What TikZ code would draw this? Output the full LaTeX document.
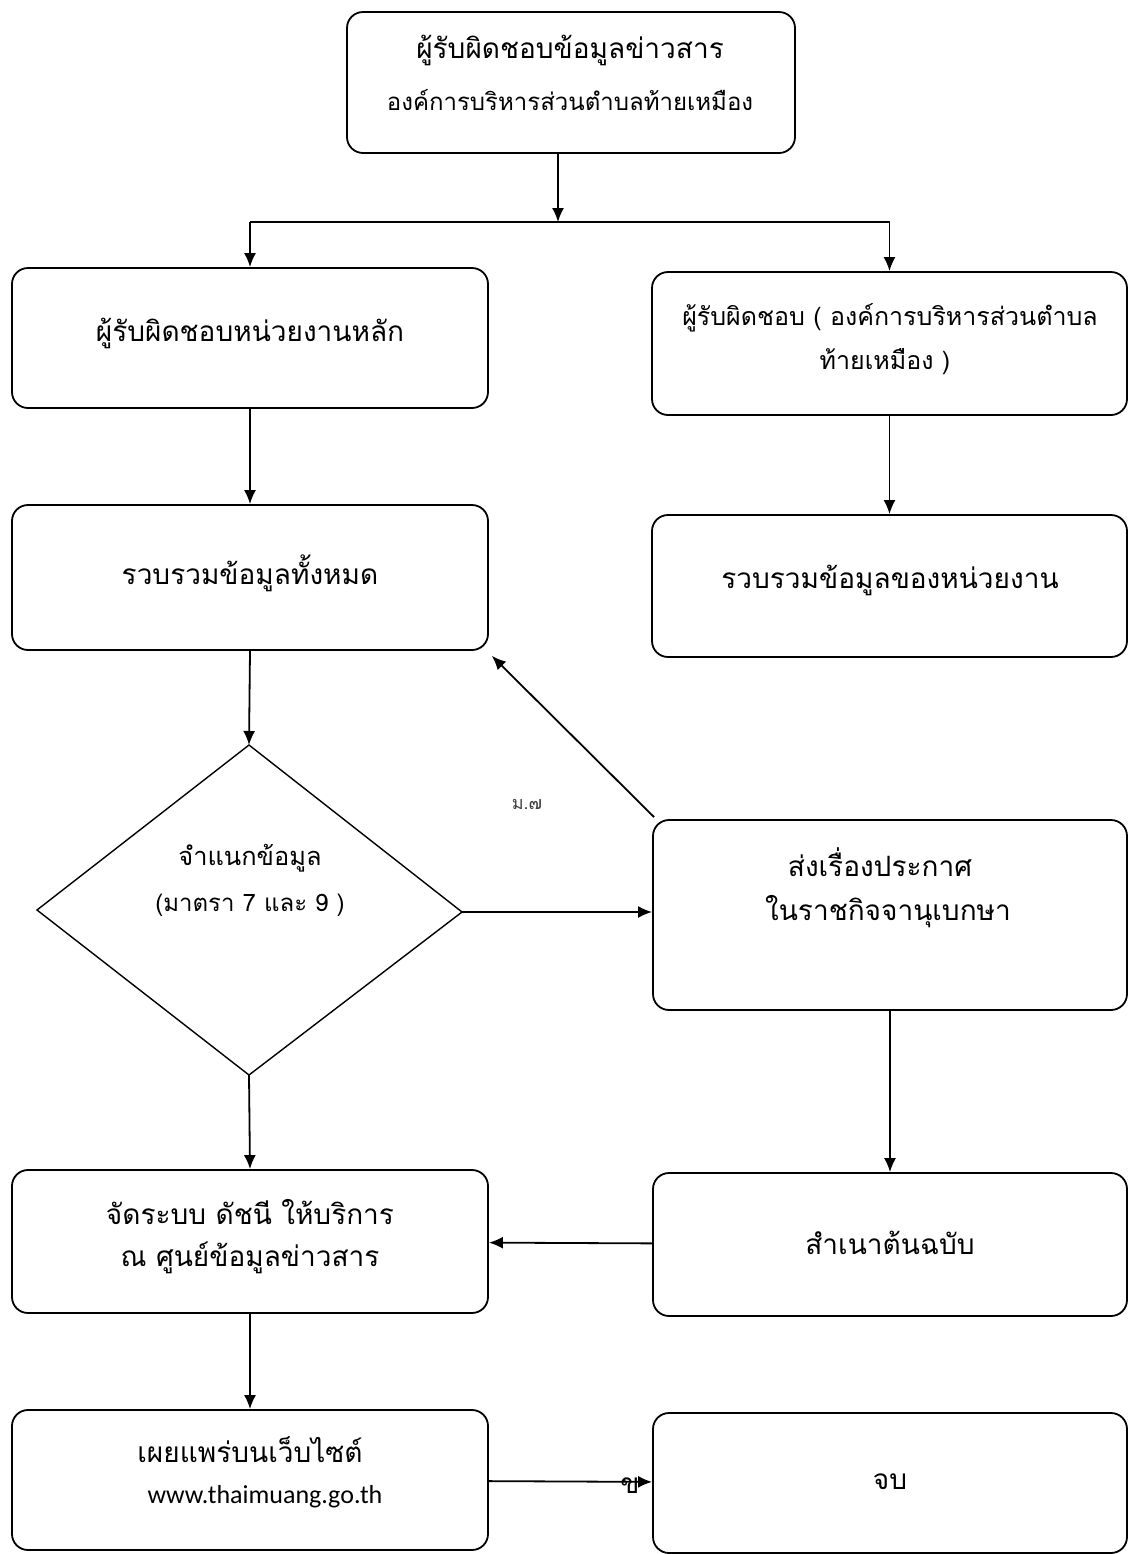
\documentclass[tikz,border=0pt]{standalone}
\usepackage{fontspec}
\setmainfont[Script=Thai]{Loma}
\newfontfamily\latinfont{Carlito}
\usetikzlibrary{arrows.meta}
\begin{document}
\begin{tikzpicture}[x=0.5pt,y=-0.5pt,
  box/.style={draw,line width=0.9pt,rounded corners=8pt,minimum width=238pt,inner sep=0pt},
  txt/.style={inner sep=0pt,font=\fontsize{14}{16}\selectfont},
  smalltxt/.style={inner sep=0pt,font=\fontsize{12}{14}\selectfont},
  conn/.style={line width=0.9pt,-{Latex[length=7pt,width=6pt]}},
  plain/.style={line width=0.9pt}]
\useasboundingbox (0,0) rectangle (1129,1554);
% boxes
\node[box,minimum width=224pt,minimum height=70.5pt] (b1) at (571,82.5) {};
\node[box,minimum height=70pt] (b2) at (250,338) {};
\node[box,minimum width=237.5pt,minimum height=71.5pt] (b3) at (889.5,343.5) {};
\node[box,minimum height=72.5pt] (b4) at (250,577.5) {};
\node[box,minimum width=237.5pt,minimum height=71pt] (b5) at (889.5,586) {};
\node[box,minimum width=237pt,minimum height=95pt] (b7) at (890,915) {};
\node[box,minimum height=71.5pt] (b8) at (250,1241.5) {};
\node[box,minimum width=237pt,minimum height=71.5pt] (b9) at (890,1244.5) {};
\node[box,minimum height=70pt] (b10) at (250,1480) {};
\node[box,minimum width=237pt,minimum height=70pt] (b11) at (890,1483) {};
% diamond
\coordinate (dT) at (249,745);
\coordinate (dB) at (249,1075);
\coordinate (dL) at (37,910);
\coordinate (dR) at (462,912);
\draw[plain,line width=0.7pt] (dT) -- (dR) -- (dB) -- (dL) -- cycle;
% texts
\node[txt] (t1a) at (570,50) {ผู้รับผิดชอบข้อมูลข่าวสาร};
\node[smalltxt] (t1b) at (570,100) {องค์การบริหารส่วนตำบลท้ายเหมือง};
\node[txt] (t2) at (250,333) {ผู้รับผิดชอบหน่วยงานหลัก};
\node[txt,font=\fontsize{12.5}{15}\selectfont] (t3a) at (890,318) {ผู้รับผิดชอบ ( องค์การบริหารส่วนตำบล};
\node[txt,font=\fontsize{12.5}{15}\selectfont] (t3b) at (885,362) {ท้ายเหมือง )};
\node[txt] (t4) at (250,573) {รวบรวมข้อมูลทั้งหมด};
\node[txt] (t5) at (890,580) {รวบรวมข้อมูลของหน่วยงาน};
\node[smalltxt,font=\fontsize{12.7}{15}\selectfont] (t6a) at (250,858) {จำแนกข้อมูล};
\node[smalltxt] (t6b) at (250,905) {(มาตรา 7 และ 9 )};
\node[txt] (t7a) at (880,862) {ส่งเรื่องประกาศ};
\node[txt] (t7b) at (888,912) {ในราชกิจจานุเบกษา};
\node[txt] (t8a) at (250,1212) {จัดระบบ ดัชนี ให้บริการ};
\node[txt] (t8b) at (250,1258) {ณ ศูนย์ข้อมูลข่าวสาร};
\node[txt] (t9) at (890,1243) {สำเนาต้นฉบับ};
\node[txt] (t10a) at (250,1450) {เผยแพร่บนเว็บไซต์};
\node[smalltxt,font=\latinfont\fontsize{13}{15}\selectfont] (t10b) at (265,1497) {www.thaimuang.go.th};
\node[txt] (t11) at (890,1482) {จบ};
\node[inner sep=0pt,font=\fontsize{9}{11}\selectfont,text=black!75] (lm) at (527,805) {ม.๗};
% connectors
\coordinate (j) at (558,222);
\draw[conn] (b1.south -| j) -- (j);
\draw[plain] (j -| b2.north) -- (j -| b3.north);
\draw[conn] (j -| b2.north) -- (b2.north);
\draw[conn] (j -| b3.north) -- (b3.north);
\draw[conn] (b2) -- (b4);
\draw[conn] (b3) -- (b5);
\draw[conn] (b4.south) -- (dT);
\draw[conn] (dR) -- (dR -| b7.west);
\draw[conn] ([shift={(2,-2)}]b7.north west) -- ([shift={(3,5)}]b4.south east);
\draw[conn] (dB) -- (b8.north);
\draw[conn] (b7) -- (b9);
\draw[conn] (b9) -- (b8);
\draw[conn] (b8) -- (b10);
\draw[conn] (b10) -- (b11);
\node[inner sep=0pt,font=\fontsize{14}{16}\selectfont] (pg) at (630,1486) {ข};
\end{tikzpicture}
\end{document}
